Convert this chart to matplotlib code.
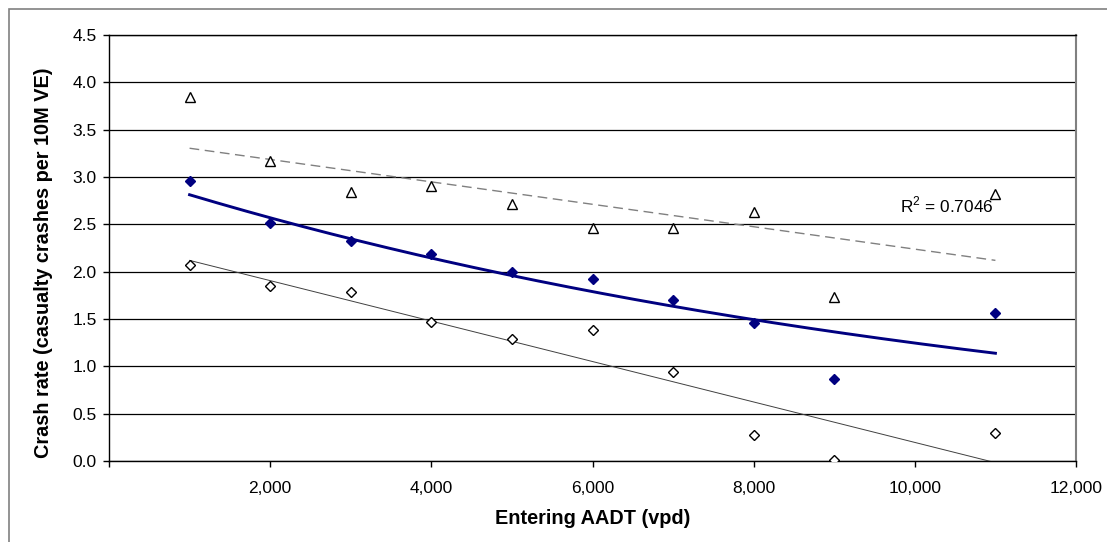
import numpy as np
import matplotlib
matplotlib.use("Agg")
import matplotlib.pyplot as plt
from matplotlib.patches import Rectangle
from matplotlib.ticker import FuncFormatter

plt.rcParams['font.family'] = ['Liberation Sans', 'DejaVu Sans']
plt.rcParams['mathtext.fontset'] = 'custom'
plt.rcParams['mathtext.rm'] = 'Liberation Sans'

# Entering AADT (vpd)
aadt = [1000, 2000, 3000, 4000, 5000, 6000, 7000, 8000, 9000, 11000]

# Crash rates (casualty crashes per 10M VE)
rate_upper = [3.85, 3.17, 2.84, 2.91, 2.72, 2.46, 2.46, 2.63, 1.73, 2.82]
rate_mid = [2.96, 2.51, 2.32, 2.19, 2.00, 1.92, 1.70, 1.455, 0.863, 1.56]
rate_lower = [2.07, 1.85, 1.78, 1.465, 1.29, 1.38, 0.943, 0.275, 0.01, 0.30]

x_ticks = [0, 2000, 4000, 6000, 8000, 10000, 12000]
y_ticks = [0.0, 0.5, 1.0, 1.5, 2.0, 2.5, 3.0, 3.5, 4.0, 4.5]
r2_label = r'R$^2$ = 0.7046'

x = np.array(aadt, dtype=float)
xt = np.linspace(x.min(), x.max(), 200)

fig = plt.figure(figsize=(11.07, 5.42), dpi=100)
fig.patches.append(Rectangle((9 / 1107, -0.1), 1.2, 533 / 542 + 0.1,
                             transform=fig.transFigure, fill=False,
                             edgecolor='#808080', linewidth=1.2))
ax = fig.add_axes([109 / 1107, 81 / 542, 967 / 1107, 426 / 542])

# Trend lines
p_up = np.polyfit(x, rate_upper, 1)
ax.plot(xt, np.polyval(p_up, xt), color='#808080', lw=1.0,
        linestyle=(0, (7, 4)), zorder=3)

p_mid = np.polyfit(x, np.log(rate_mid), 1)
ax.plot(xt, np.exp(np.polyval(p_mid, xt)), color='#000080', lw=2.1, zorder=3)

p_low = np.polyfit(x, rate_lower, 1)
ax.plot(xt, np.polyval(p_low, xt), color='#404040', lw=0.7, zorder=3)

# Data points
ax.plot(aadt, rate_upper, linestyle='none', marker='^', markersize=6.5,
        markerfacecolor='white', markeredgecolor='black', markeredgewidth=1.0,
        zorder=4)
ax.plot(aadt, rate_mid, linestyle='none', marker='D', markersize=5.5,
        markerfacecolor='#000080', markeredgecolor='#000080', zorder=4)
ax.plot(aadt, rate_lower, linestyle='none', marker='D', markersize=5.5,
        markerfacecolor='white', markeredgecolor='black', markeredgewidth=1.0,
        zorder=4)

ax.text(9814, 2.63, r2_label, fontsize=12.4, va='baseline', ha='left')

ax.set_xlim(0, 12000)
ax.set_ylim(0, 4.5)
ax.set_xticks(x_ticks)
ax.set_yticks(y_ticks)
ax.xaxis.set_major_formatter(FuncFormatter(lambda v, p: '' if v == 0 else f'{v:,.0f}'))
ax.yaxis.set_major_formatter(FuncFormatter(lambda v, p: f'{v:.1f}'))
ax.grid(axis='y', color='black', linewidth=0.9)
ax.set_axisbelow(True)

for side in ('left', 'bottom', 'top'):
    ax.spines[side].set_color('black')
    ax.spines[side].set_linewidth(1.0)
ax.spines['right'].set_color('#808080')
ax.spines['right'].set_linewidth(1.5)

ax.tick_params(axis='x', direction='out', length=4, width=1, pad=10.5,
               labelsize=12.5, color='black')
ax.tick_params(axis='y', direction='out', length=4, width=1, pad=5,
               labelsize=12.5, color='black')

ax.set_xlabel('Entering AADT (vpd)', fontsize=14.3, fontweight='bold', labelpad=9)
ax.set_ylabel('Crash rate (casualty crashes per 10M VE)', fontsize=14.3,
              fontweight='bold')
ax.yaxis.set_label_coords(-0.058, 0.466)

fig.savefig('out.png', dpi=100)
